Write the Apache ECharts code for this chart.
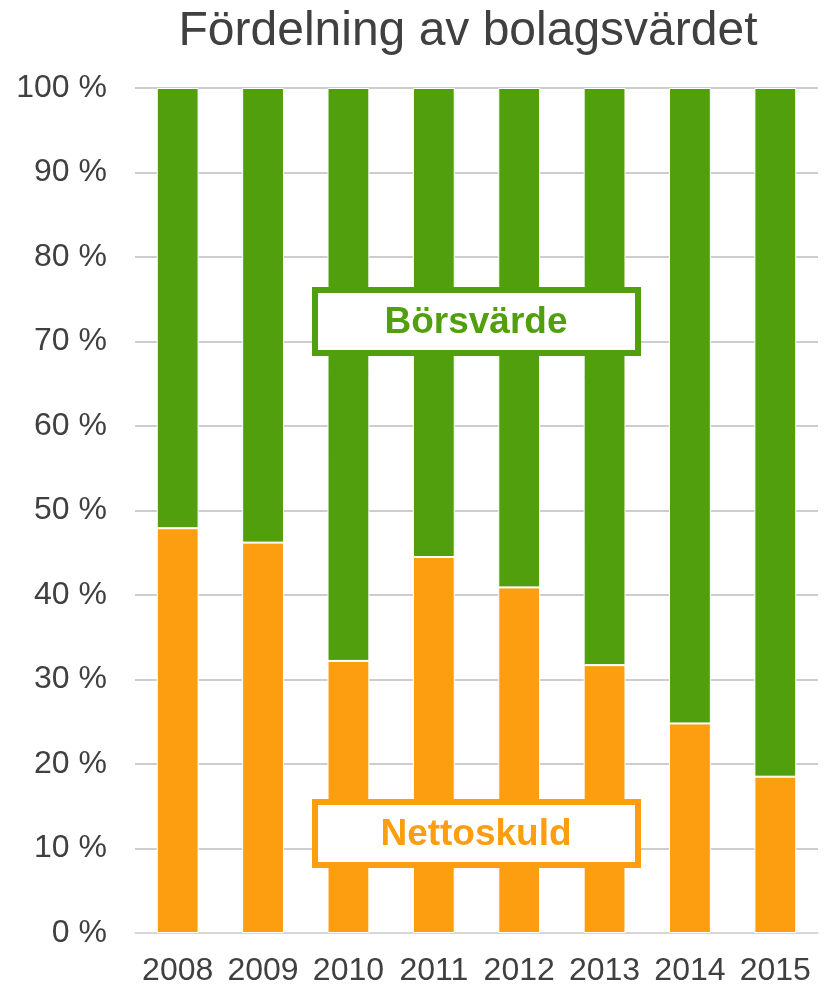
<!DOCTYPE html>
<html>
<head>
<meta charset="utf-8">
<script src="https://cdn.jsdelivr.net/npm/echarts@6/dist/echarts.min.js"></script>
<style>
  html, body { margin: 0; padding: 0; background: #fff; }
  #chart { width: 827px; height: 987px; }
</style>
</head>
<body>
<div id="chart"></div>
<script>
// data
const years = ['2008', '2009', '2010', '2011', '2012', '2013', '2014', '2015']
const nettoskuld = [47.9, 46.2, 32.2, 44.5, 40.9, 31.7, 24.8, 18.5]
const borsvarde = nettoskuld.map((v) => +(100 - v).toFixed(1))

const GREEN = '#529f0d'
const ORANGE = '#fc9e10'
const TEXT = '#404040'
const FONT = '"Liberation Sans", Arial, sans-serif'

const chart = echarts.init(document.getElementById('chart'))

// box label drawn as a rect plus text, placed on the plot
const boxLabel = (text, color, y) => ({
  type: 'group',
  children: [
    {
      type: 'rect',
      shape: { x: 315, y: y, width: 323, height: 63 },
      style: { fill: '#fff', stroke: color, lineWidth: 6 },
      z: 10,
    },
    {
      type: 'text',
      x: 476,
      y: y + 33,
      style: {
        text: text,
        fill: color,
        font: 'bold 37px ' + FONT,
        align: 'center',
        verticalAlign: 'middle',
      },
      z: 11,
    },
  ],
})

chart.setOption({
  animation: false,
  backgroundColor: '#fff',
  title: {
    text: 'Fördelning av bolagsvärdet',
    left: 463,
    textAlign: 'center',
    top: 3,
    textStyle: { fontFamily: FONT, fontSize: 48, fontWeight: 'normal', color: TEXT },
  },
  grid: { left: 135, right: 9, top: 88, bottom: 53.5 },
  xAxis: {
    type: 'category',
    data: years,
    axisTick: { show: false },
    axisLine: { lineStyle: { color: '#d9d9d9', width: 1.5 } },
    axisLabel: { color: TEXT, fontFamily: FONT, fontSize: 32, margin: 22, interval: 0 },
  },
  yAxis: {
    type: 'value',
    min: 0,
    max: 100,
    interval: 10,
    axisLabel: { color: TEXT, fontFamily: FONT, fontSize: 32, margin: 28, formatter: '{value} %' },
    splitLine: { lineStyle: { color: '#bdbdbd', width: 1.5 } },
    axisLine: { show: false },
    axisTick: { show: false },
  },
  series: [
    {
      name: 'Nettoskuld',
      type: 'bar',
      stack: 'total',
      data: nettoskuld,
      barWidth: '49%',
      itemStyle: { color: ORANGE, borderColor: '#fff', borderWidth: 1 },
    },
    {
      name: 'Börsvärde',
      type: 'bar',
      stack: 'total',
      data: borsvarde,
      barWidth: '49%',
      itemStyle: { color: GREEN, borderColor: '#fff', borderWidth: 1 },
    },
  ],
  graphic: [boxLabel('Börsvärde', GREEN, 290), boxLabel('Nettoskuld', ORANGE, 802)],
})
</script>
</body>
</html>
